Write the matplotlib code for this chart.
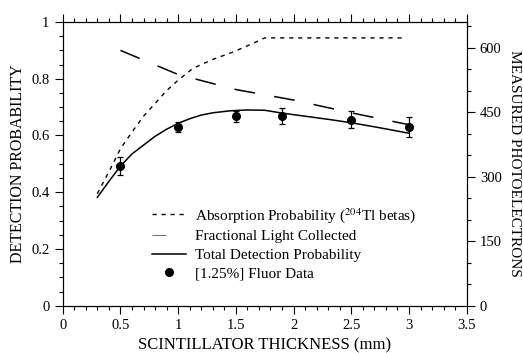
import matplotlib
matplotlib.use('Agg')
import matplotlib.pyplot as plt
from matplotlib.ticker import MultipleLocator
from matplotlib.lines import Line2D

plt.rcParams['font.family'] = ['Liberation Serif', 'DejaVu Serif']
plt.rcParams['mathtext.fontset'] = 'stix'
plt.rcParams['lines.scale_dashes'] = False

# absorption probability (204Tl betas)
absorb_x = [0.3, 0.4, 0.5, 0.6, 0.7, 0.8, 0.9, 1.0, 1.13, 1.3, 1.48, 1.65, 1.75, 2.0, 2.5, 2.97]
absorb_y = [0.395, 0.472, 0.553, 0.612, 0.668, 0.713, 0.758, 0.795, 0.837, 0.868, 0.895, 0.925,
            0.944, 0.944, 0.944, 0.944]

# fractional light collected
light_x = [0.5, 1.0, 1.5, 2.0, 2.5, 3.0]
light_y = [0.9, 0.815, 0.762, 0.725, 0.68, 0.638]

# total detection probability
total_x = [0.3, 0.4, 0.5, 0.6, 0.7, 0.8, 0.9, 1.0, 1.1, 1.2, 1.3, 1.45, 1.6, 1.75,
           1.9, 2.1, 2.3, 2.5, 2.75, 3.0]
total_y = [0.382, 0.438, 0.492, 0.535, 0.566, 0.597, 0.622, 0.643, 0.659, 0.672, 0.68,
           0.687, 0.69, 0.689, 0.679, 0.668, 0.657, 0.645, 0.627, 0.608]

# [1.25%] fluor data
fluor_x = [0.5, 1.0, 1.5, 1.9, 2.5, 3.0]
fluor_y = [0.492, 0.629, 0.668, 0.669, 0.656, 0.63]
fluor_err = [0.031, 0.018, 0.019, 0.029, 0.03, 0.036]

xticks = [0, 0.5, 1, 1.5, 2, 2.5, 3, 3.5]
xtick_labels = ['0', '0.5', '1', '1.5', '2', '2.5', '3', '3.5']
yticks = [0, 0.2, 0.4, 0.6, 0.8, 1.0]
ytick_labels = ['0', '0.2', '0.4', '0.6', '0.8', '1']
pe_ticks = [0, 150, 300, 450, 600]

fig = plt.figure(figsize=(5.23, 3.53), dpi=100)
ax = fig.add_axes([0.1199, 0.134, 0.7724, 0.8036])

ax.plot(absorb_x, absorb_y, color='black', lw=1.0, ls=(0, (3, 3.5)))
ax.plot(light_x, light_y, color='black', lw=1.1, ls=(0, (15, 14)))
ax.plot(total_x, total_y, color='black', lw=1.1)
ax.errorbar(fluor_x, fluor_y, yerr=fluor_err, fmt='o', color='black',
            ms=5.5, capsize=2.5, elinewidth=0.9, capthick=0.9)

ax.set_xlim(0, 3.5)
ax.set_ylim(0, 1)
ax.set_xticks(xticks)
ax.set_xticklabels(xtick_labels)
ax.set_yticks(yticks)
ax.set_yticklabels(ytick_labels)
ax.xaxis.set_minor_locator(MultipleLocator(0.1))
ax.yaxis.set_minor_locator(MultipleLocator(0.05))
ax.tick_params(which='both', direction='out', top=True, labelsize=10.5, width=0.8)
ax.tick_params(which='major', length=6)
ax.tick_params(which='minor', length=3)
ax.set_xlabel('SCINTILLATOR THICKNESS (mm)', fontsize=12)
ax.set_ylabel('DETECTION PROBABILITY', fontsize=11.5)

ax2 = ax.twinx()
ax2.set_ylim(0, 660)
ax2.set_yticks(pe_ticks)
ax2.yaxis.set_minor_locator(MultipleLocator(50))
ax2.tick_params(which='both', direction='out', labelsize=10.5, width=0.8)
ax2.tick_params(which='major', length=6)
ax2.tick_params(which='minor', length=3)
ax2.set_ylabel('MEASURED PHOTOELECTRONS', fontsize=11, rotation=-90, labelpad=14)

handles = [
    Line2D([], [], color='black', lw=1.0, ls=(0, (3, 3.5))),
    Line2D([], [], color='#555555', lw=0.6, ls=(4, (14, 40))),
    Line2D([], [], color='black', lw=1.1),
    Line2D([], [], color='black', marker='o', ms=5.5, ls='none'),
]
labels = [r'Absorption Probability ($^{204}$Tl betas)',
          'Fractional Light Collected',
          'Total Detection Probability',
          '[1.25%] Fluor Data']
ax.legend(handles, labels, loc='upper left', bbox_to_anchor=(0.222, 0.352),
          frameon=False, fontsize=11, handlelength=2.2, handletextpad=0.6,
          labelspacing=0.32, borderpad=0, borderaxespad=0)

fig.savefig('out.png', dpi=100)
